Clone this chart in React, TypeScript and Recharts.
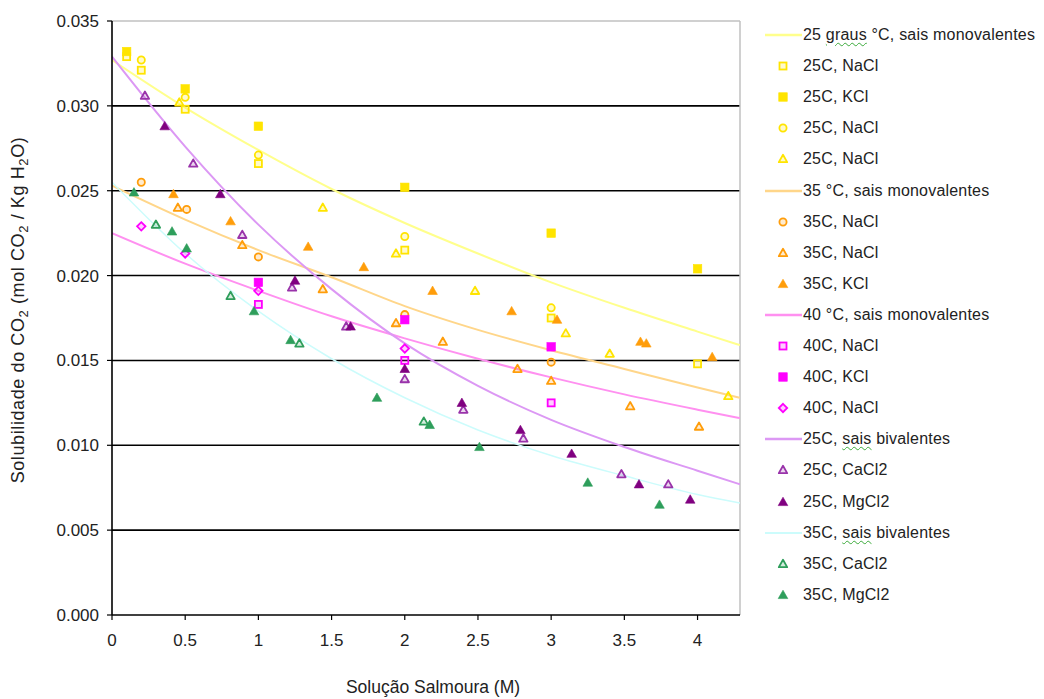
import React from 'react';
import {
  ComposedChart,
  Line,
  Scatter,
  XAxis,
  YAxis,
  CartesianGrid,
  ReferenceLine,
} from 'recharts';

const TREND_X = [0, 0.5, 1, 1.5, 2, 2.5, 3, 3.5, 4, 4.29];
const TREND_25_MONO = [0.0327, 0.0299, 0.0274, 0.0251, 0.0231, 0.0213, 0.0196, 0.0181, 0.0167, 0.0159];
const TREND_35_MONO = [0.0253, 0.0233, 0.0215, 0.0199, 0.0182, 0.0168, 0.0156, 0.0145, 0.0134, 0.0128];
const TREND_40_MONO = [0.0225, 0.0207, 0.0191, 0.0176, 0.0163, 0.0151, 0.014, 0.013, 0.0121, 0.0116];
const TREND_25_BIV = [0.0329, 0.0276, 0.023, 0.0192, 0.016, 0.0135, 0.0115, 0.0099, 0.0085, 0.0077];
const TREND_35_BIV = [0.0255, 0.0213, 0.0179, 0.0151, 0.0128, 0.0109, 0.0094, 0.0082, 0.0071, 0.0066];

// measured points [concentration M, solubility]
const P25_NACL_SQ: [number, number][] = [[0.1, 0.0329], [0.2, 0.0321], [0.5, 0.0298], [1, 0.0266], [2, 0.0215], [3, 0.0175], [4, 0.0148]];
const P25_KCL: [number, number][] = [[0.1, 0.0332], [0.5, 0.031], [1, 0.0288], [2, 0.0252], [3, 0.0225], [4, 0.0204]];
const P25_NACL_CI: [number, number][] = [[0.2, 0.0327], [0.5, 0.0305], [1, 0.0271], [2, 0.0223], [3, 0.0181]];
const P25_NACL_TR: [number, number][] = [[0.46, 0.0302], [1.44, 0.024], [1.94, 0.0213], [2.48, 0.0191], [3.1, 0.0166], [3.4, 0.0154], [4.21, 0.0129]];

const P35_NACL_CI: [number, number][] = [[0.2, 0.0255], [0.51, 0.0239], [1, 0.0211], [2, 0.0177], [3, 0.0149]];
const P35_NACL_TR: [number, number][] = [[0.45, 0.024], [0.89, 0.0218], [1.44, 0.0192], [1.94, 0.0172], [2.26, 0.0161], [2.77, 0.0145], [3, 0.0138], [3.54, 0.0123], [4.01, 0.0111]];
const P35_KCL: [number, number][] = [[0.42, 0.0248], [0.81, 0.0232], [1.34, 0.0217], [1.72, 0.0205], [2.19, 0.0191], [2.73, 0.0179], [3.04, 0.0174], [3.61, 0.0161], [3.65, 0.016], [4.1, 0.0152]];

const P40_NACL_SQ: [number, number][] = [[1, 0.0183], [2, 0.015], [3, 0.0125]];
const P40_KCL: [number, number][] = [[1, 0.0196], [2, 0.0174], [3, 0.0158]];
const P40_NACL_DI: [number, number][] = [[0.2, 0.0229], [0.5, 0.0213], [1, 0.0191], [2, 0.0157]];

const P25_CACL2: [number, number][] = [[0.225, 0.0306], [0.555, 0.0266], [0.89, 0.0224], [1.23, 0.0193], [1.6, 0.017], [2, 0.0139], [2.4, 0.0121], [2.81, 0.0104], [3.48, 0.0083], [3.8, 0.0077]];
const P25_MGCL2: [number, number][] = [[0.36, 0.0288], [0.74, 0.0248], [1.25, 0.0197], [1.63, 0.017], [2, 0.0145], [2.39, 0.0125], [2.79, 0.0109], [3.14, 0.0095], [3.6, 0.0077], [3.95, 0.0068]];

const P35_CACL2: [number, number][] = [[0.3, 0.023], [0.81, 0.0188], [1.28, 0.016], [2.13, 0.0114]];
const P35_MGCL2: [number, number][] = [[0.15, 0.0249], [0.41, 0.0226], [0.51, 0.0216], [0.97, 0.0179], [1.22, 0.0162], [1.81, 0.0128], [2.17, 0.0112], [2.51, 0.0099], [3.25, 0.0078], [3.74, 0.0065]];

const X_TICKS = [0, 0.5, 1, 1.5, 2, 2.5, 3, 3.5, 4];
const Y_TICKS = [0, 0.005, 0.01, 0.015, 0.02, 0.025, 0.03, 0.035];
const GRID_Y = [0.005, 0.01, 0.015, 0.02, 0.025, 0.03];

const FONT = '"Liberation Sans", Arial, sans-serif';

const YELLOW = '#FFE400';
const ORANGE = '#FF9D0A';
const MAGENTA = '#FF00FF';
const PURPLE = '#9933AA';
const DARK_PURPLE = '#800080';
const GREEN = '#2E9E5B';

type Kind = 'square' | 'circle' | 'triangle' | 'diamond';

const toPoints = (pts: [number, number][]) => pts.map(([x, y]) => ({ x, y }));
const toTrend = (ys: number[]) => TREND_X.map((x, i) => ({ x, y: ys[i] }));

const Marker = ({ kind, cx, cy, color, filled }: { kind: Kind; cx: number; cy: number; color: string; filled: boolean }) => {
  const fill = color;
  const fillOpacity = filled ? 1 : 0.2;
  const stroke = color;
  const sw = filled ? 0.6 : 1.8;
  if (kind === 'square') {
    const s = filled ? 8.5 : 7;
    return <rect x={cx - s / 2} y={cy - s / 2} width={s} height={s} fill={fill} fillOpacity={fillOpacity} stroke={stroke} strokeWidth={sw} />;
  }
  if (kind === 'circle') {
    return <circle cx={cx} cy={cy} r={filled ? 4.2 : 3.6} fill={fill} fillOpacity={fillOpacity} stroke={stroke} strokeWidth={sw} />;
  }
  if (kind === 'diamond') {
    const r = filled ? 4.8 : 4.2;
    return <polygon points={`${cx},${cy - r} ${cx + r},${cy} ${cx},${cy + r} ${cx - r},${cy}`} fill={fill} fillOpacity={fillOpacity} stroke={stroke} strokeWidth={sw} />;
  }
  const r = filled ? 4.8 : 4.2;
  return (
    <polygon
      points={`${cx},${cy - r} ${cx + r},${cy + r * 0.75} ${cx - r},${cy + r * 0.75}`}
      fill={fill}
      fillOpacity={fillOpacity}
      stroke={stroke}
      strokeWidth={sw}
      strokeLinejoin="round"
    />
  );
};

interface PointSeries { name: string; data: [number, number][]; kind: Kind; color: string; filled: boolean }
interface TrendSeries { name: string; data: number[]; color: string; width: number }

const TRENDS: TrendSeries[] = [
  { name: 'm25', data: TREND_25_MONO, color: '#FFFF8C', width: 2 },
  { name: 'm35', data: TREND_35_MONO, color: '#FFD68A', width: 2 },
  { name: 'm40', data: TREND_40_MONO, color: '#FF90F0', width: 2 },
  { name: 'b25', data: TREND_25_BIV, color: '#DC98F4', width: 2 },
  { name: 'b35', data: TREND_35_BIV, color: '#CCFCFC', width: 1.5 },
];

const POINTS: PointSeries[] = [
  { name: '25C, NaCl', data: P25_NACL_SQ, kind: 'square', color: YELLOW, filled: false },
  { name: '25C, KCl', data: P25_KCL, kind: 'square', color: YELLOW, filled: true },
  { name: '25C, NaCl', data: P25_NACL_CI, kind: 'circle', color: YELLOW, filled: false },
  { name: '25C, NaCl', data: P25_NACL_TR, kind: 'triangle', color: YELLOW, filled: false },
  { name: '35C, NaCl', data: P35_NACL_CI, kind: 'circle', color: ORANGE, filled: false },
  { name: '35C, NaCl', data: P35_NACL_TR, kind: 'triangle', color: ORANGE, filled: false },
  { name: '35C, KCl', data: P35_KCL, kind: 'triangle', color: ORANGE, filled: true },
  { name: '40C, NaCl', data: P40_NACL_SQ, kind: 'square', color: MAGENTA, filled: false },
  { name: '40C, KCl', data: P40_KCL, kind: 'square', color: MAGENTA, filled: true },
  { name: '40C, NaCl', data: P40_NACL_DI, kind: 'diamond', color: MAGENTA, filled: false },
  { name: '25C, CaCl2', data: P25_CACL2, kind: 'triangle', color: PURPLE, filled: false },
  { name: '25C, MgCl2', data: P25_MGCL2, kind: 'triangle', color: DARK_PURPLE, filled: true },
  { name: '35C, CaCl2', data: P35_CACL2, kind: 'triangle', color: GREEN, filled: false },
  { name: '35C, MgCl2', data: P35_MGCL2, kind: 'triangle', color: GREEN, filled: true },
];

const Squiggle = ({ children }: { children: React.ReactNode }) => (
  <span style={{ textDecoration: 'underline wavy #3BAA3B', textDecorationThickness: 1, textUnderlineOffset: 2 }}>{children}</span>
);

// legend rows, top to bottom
const LEGEND: { label: React.ReactNode; line?: TrendSeries; point?: PointSeries }[] = [
  { label: <>25 <Squiggle>graus</Squiggle> °C, sais monovalentes</>, line: TRENDS[0] },
  { label: POINTS[0].name, point: POINTS[0] },
  { label: POINTS[1].name, point: POINTS[1] },
  { label: POINTS[2].name, point: POINTS[2] },
  { label: POINTS[3].name, point: POINTS[3] },
  { label: '35 °C, sais monovalentes', line: TRENDS[1] },
  { label: POINTS[4].name, point: POINTS[4] },
  { label: POINTS[5].name, point: POINTS[5] },
  { label: POINTS[6].name, point: POINTS[6] },
  { label: '40 °C, sais monovalentes', line: TRENDS[2] },
  { label: POINTS[7].name, point: POINTS[7] },
  { label: POINTS[8].name, point: POINTS[8] },
  { label: POINTS[9].name, point: POINTS[9] },
  { label: <>25C, <Squiggle>sais</Squiggle> bivalentes</>, line: TRENDS[3] },
  { label: POINTS[10].name, point: POINTS[10] },
  { label: POINTS[11].name, point: POINTS[11] },
  { label: <>35C, <Squiggle>sais</Squiggle> bivalentes</>, line: TRENDS[4] },
  { label: POINTS[12].name, point: POINTS[12] },
  { label: POINTS[13].name, point: POINTS[13] },
];

const YTitle = () => (
  <text transform="translate(24, 310) rotate(-90)" textAnchor="middle" fontFamily={FONT} fontSize={18} letterSpacing={0.6} fill="#222">
    Solubilidade do CO
    <tspan fontSize={13} dy={4}>2</tspan>
    <tspan dy={-4}> (mol CO</tspan>
    <tspan fontSize={13} dy={4}>2</tspan>
    <tspan dy={-4}> / Kg H</tspan>
    <tspan fontSize={13} dy={4}>2</tspan>
    <tspan dy={-4}>O)</tspan>
  </text>
);

const App = () => {
  return (
    <div style={{ position: 'absolute', left: 0, top: 0, width: 1044, height: 699, background: '#fff', fontFamily: FONT }}>
      <ComposedChart width={1044} height={699} margin={{ top: 21, right: 304, bottom: 0, left: 0 }}>
        <CartesianGrid horizontal vertical={false} horizontalValues={GRID_Y} stroke="#000" strokeWidth={1.6} />
        <XAxis
          type="number"
          dataKey="x"
          domain={[0, 4.29]}
          ticks={X_TICKS}
          allowDataOverflow
          height={84}
          tickSize={5}
          tickMargin={14}
          axisLine={{ stroke: '#000', strokeWidth: 1.6 }}
          tickLine={{ stroke: '#000', strokeWidth: 1.2 }}
          tick={{ fill: '#222', fontSize: 17, fontFamily: FONT }}
          label={{ value: 'Solução Salmoura (M)', position: 'insideBottom', offset: 6, fill: '#222', fontSize: 17.5, fontFamily: FONT, dx: 7 }}
        />
        <YAxis
          type="number"
          dataKey="y"
          domain={[0, 0.035]}
          ticks={Y_TICKS}
          allowDataOverflow
          width={112}
          tickSize={5}
          tickMargin={8}
          tickFormatter={(v: number) => v.toFixed(3)}
          axisLine={{ stroke: '#000', strokeWidth: 1.6 }}
          tickLine={{ stroke: '#000', strokeWidth: 1.2 }}
          tick={{ fill: '#222', fontSize: 17, fontFamily: FONT }}
          label={{ content: () => <YTitle /> }}
        />
        <ReferenceLine y={0.035} stroke="#C0C0C0" strokeWidth={1.5} />
        <ReferenceLine x={4.29} stroke="#C0C0C0" strokeWidth={1.5} />
        {TRENDS.map((t) => (
          <Line
            key={t.name}
            data={toTrend(t.data)}
            dataKey="y"
            type="monotone"
            stroke={t.color}
            strokeWidth={t.width}
            dot={false}
            activeDot={false}
            isAnimationActive={false}
          />
        ))}
        {POINTS.map((p, i) => (
          <Scatter
            key={i}
            data={toPoints(p.data)}
            dataKey="y"
            isAnimationActive={false}
            shape={(props: any) => <Marker kind={p.kind} cx={props.cx} cy={props.cy} color={p.color} filled={p.filled} />}
          />
        ))}
      </ComposedChart>

      {LEGEND.map((row, i) => {
        const cy = 35 + i * 31.1;
        return (
          <div
            key={i}
            style={{
              position: 'absolute',
              left: 765,
              top: cy - 10,
              height: 20,
              display: 'flex',
              alignItems: 'center',
              whiteSpace: 'nowrap',
              fontSize: 16,
              letterSpacing: 0.2,
              color: '#222',
            }}
          >
            <svg width={37} height={20} style={{ display: 'block' }}>
              {row.line && <line x1={0} y1={10} x2={37} y2={10} stroke={row.line.color} strokeWidth={row.line.width + 0.5} />}
              {row.point && <Marker kind={row.point.kind} cx={18} cy={10} color={row.point.color} filled={row.point.filled} />}
            </svg>
            <span style={{ marginLeft: 1 }}>{row.label}</span>
          </div>
        );
      })}
    </div>
  );
};

export default App;
